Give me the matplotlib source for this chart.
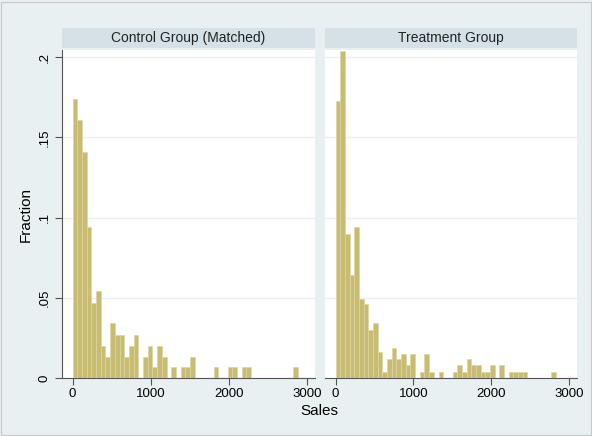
import matplotlib
matplotlib.use("Agg")
import matplotlib.pyplot as plt
from matplotlib.patches import Rectangle

plt.rcParams['font.family'] = ['Liberation Sans', 'DejaVu Sans']

# histogram bins (Sales), same width in both panels
bin_width = 60.2
n_bins = 48
bin_left = [i * bin_width for i in range(n_bins)]

control_frac = [0.174, 0.161, 0.141, 0.094, 0.047, 0.054, 0.020, 0.013, 0.034, 0.027,
                0.027, 0.013, 0.020, 0.027, 0.0, 0.013, 0.020, 0.007, 0.020, 0.013,
                0.0, 0.007, 0.0, 0.007, 0.007, 0.013, 0.0, 0.0, 0.0, 0.0,
                0.007, 0.0, 0.0, 0.007, 0.007, 0.0, 0.007, 0.007, 0.0, 0.0,
                0.0, 0.0, 0.0, 0.0, 0.0, 0.0, 0.0, 0.007]
treat_frac = [0.173, 0.204, 0.090, 0.064, 0.094, 0.049, 0.046, 0.030, 0.034, 0.016,
              0.004, 0.012, 0.019, 0.012, 0.015, 0.008, 0.015, 0.0, 0.004, 0.015,
              0.004, 0.0, 0.004, 0.0, 0.0, 0.004, 0.008, 0.004, 0.012, 0.008,
              0.008, 0.004, 0.004, 0.008, 0.0, 0.008, 0.0, 0.004, 0.004, 0.004,
              0.004, 0.0, 0.0, 0.0, 0.0, 0.0, 0.004, 0.0]

panel_titles = ["Control Group (Matched)", "Treatment Group"]
x_ticks = [0, 1000, 2000, 3000]
y_ticks = [0, 0.05, 0.1, 0.15, 0.2]
y_tick_labels = ["0", ".05", ".1", ".15", ".2"]

bg = '#e9f0f2'
strip = '#d5e1e6'
bar_color = '#c8bc72'
axis_color = '#555555'

W, H = 592, 436
fig = plt.figure(figsize=(W / 100, H / 100), dpi=100, facecolor=bg)
fig.patches.append(Rectangle((0.002, 0.002), 0.996, 0.993, transform=fig.transFigure,
                             fill=False, edgecolor='#c8c8c8', linewidth=0.8))

panels = [(62, 315), (325, 577)]
top, bottom = 50, 378
for k, ((x0, x1), data) in enumerate(zip(panels, [control_frac, treat_frac])):
    ax = fig.add_axes([x0 / W, (H - bottom) / H, (x1 - x0) / W, (bottom - top) / H])
    ax.set_facecolor('white')
    ax.bar(bin_left, data, width=bin_width, align='edge', color=bar_color,
           edgecolor='#ddd5a0', linewidth=0.5, zorder=3)
    ax.set_xlim(-135, 3105)
    ax.set_ylim(0, 0.2045)
    ax.set_yticks(y_ticks)
    ax.yaxis.grid(True, color='#e8f0f1', linewidth=1.0, zorder=0)
    ax.set_xticks(x_ticks)
    ax.set_xticklabels([str(t) for t in x_ticks], fontsize=9.5)
    for s in ['top', 'right']:
        ax.spines[s].set_visible(False)
    ax.spines['bottom'].set_color(axis_color)
    ax.spines['bottom'].set_linewidth(0.8)
    ax.tick_params(axis='x', direction='out', length=5, width=0.8, color=axis_color, pad=2)
    if k == 0:
        ax.spines['left'].set_color(axis_color)
        ax.spines['left'].set_linewidth(0.8)
        ax.set_yticklabels(y_tick_labels, rotation=90, va='center', fontsize=9.5)
        ax.tick_params(axis='y', direction='out', length=5, width=0.8, color=axis_color, pad=3)
    else:
        ax.spines['left'].set_visible(False)
        ax.tick_params(axis='y', length=0, labelleft=False)
    # header strip
    fig.patches.append(Rectangle((x0 / W, (H - 48) / H), (x1 - x0) / W, 20 / H,
                                 transform=fig.transFigure, facecolor=strip, edgecolor='none'))
    fig.text((x0 + x1) / 2 / W, (H - 38) / H, panel_titles[k], ha='center', va='center',
             fontsize=10, color='#222222')

fig.text(319 / W, (H - 411) / H, "Sales", ha='center', va='center', fontsize=11)
fig.text(26 / W, (H - 214) / H, "Fraction", ha='center', va='center', rotation=90, fontsize=11)

fig.savefig("out.png", dpi=100, facecolor=bg)
